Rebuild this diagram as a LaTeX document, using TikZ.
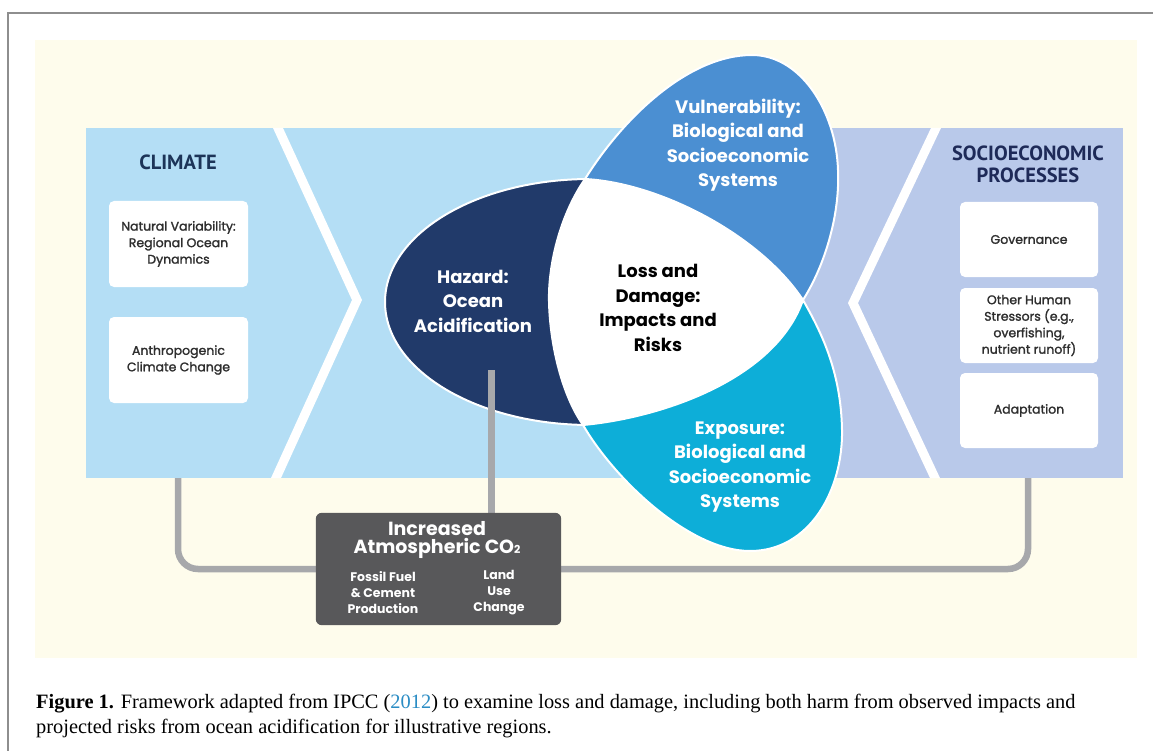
\documentclass[tikz,border=0pt]{standalone}
\usepackage{fontspec}
\setmainfont{Liberation Serif}
\newfontfamily\popm{Poppins}[FakeBold=1.6]
\newfontfamily\popb{Poppins}
\newfontfamily\ptsans{PT Sans}
\usetikzlibrary{shapes.geometric}
\definecolor{cream}{HTML}{FEFCEC}
\definecolor{skyp}{HTML}{B4DEF5}
\definecolor{lavp}{HTML}{B9C9EA}
\definecolor{navyH}{HTML}{213A6A}
\definecolor{vulB}{HTML}{4B8FD2}
\definecolor{expT}{HTML}{0DAED8}
\definecolor{connG}{HTML}{A7A8AB}
\definecolor{coBox}{HTML}{58585A}
\definecolor{headC}{HTML}{1C3458}
\definecolor{headS}{HTML}{1E2A58}
\definecolor{boxT}{HTML}{2E2E2E}
\definecolor{capBlue}{HTML}{2A8CC4}
\definecolor{frameG}{HTML}{8E8E8E}
\tikzset{
  wbox/.style={fill=white, rounded corners=5pt, inner sep=0pt, text=boxT, align=center,
    font=\popm\fontsize{12.5}{16.5}\selectfont},
  headtxt/.style={font=\ptsans\bfseries\fontsize{20.5}{22}\selectfont, align=center, inner sep=0pt},
  elltxt/.style={font=\popb\bfseries\fontsize{18}{24.5}\selectfont, align=center, inner sep=0pt},
  cotxt/.style={font=\popb\bfseries\fontsize{12.5}{16}\selectfont, align=center, inner sep=0pt, text=white},
  conn/.style={draw=connG, line width=6.5pt, rounded corners=20pt},
  shapeline/.style={draw=white, line width=2pt},
  chev/.style={fill=white},
  captxt/.style={font=\fontsize{20.4}{25}\selectfont, anchor=base west, inner sep=0pt}
}
\begin{document}
\begin{tikzpicture}[x=1pt,y=-1pt]
\useasboundingbox (0,0) rectangle (1153,751);
% frame and background
\draw[frameG, line width=1.5pt] (8,751) -- (8,13) -- (1153,13);
\fill[cream] (35,40) rectangle (1137,658);
% panels
\node[fill=skyp, anchor=north west, inner sep=0pt, minimum width=684, minimum height=350] (climpanel) at (86,128) {};
\node[fill=lavp, anchor=north west, inner sep=0pt, minimum width=353, minimum height=350] (socpanel) at (770,128) {};
% chevron bands
\fill[chev] (273,128) -- (283,128) -- (362,300) -- (281,478) -- (271,478) -- (352,300) -- cycle;
\fill[chev] (931,128) -- (941,128) -- (858,303) -- (940,478) -- (930,478) -- (848,303) -- cycle;
% headings
\node[headtxt, text=headC] (climh) at (178,162) {CLIMATE};
\node[headtxt, text=headS] (soch) at (1028,164) {SOCIOECONOMIC\\PROCESSES};
% left boxes
\node[wbox, minimum width=139, minimum height=86] (natv) at (178.5,244) {Natural Variability:\\Regional Ocean\\Dynamics};
\node[wbox, minimum width=139, minimum height=86] (anth) at (178.5,360) {Anthropogenic\\Climate Change};
% right boxes
\node[wbox, minimum width=138, minimum height=75] (gov) at (1029,239.5) {Governance};
\node[wbox, minimum width=138, minimum height=75] (oth) at (1029,325.5) {Other Human\\Stressors (e.g.,\\overfishing,\\nutrient runoff)};
\node[wbox, minimum width=138, minimum height=75] (adap) at (1029,410.5) {Adaptation};
% hazard ellipse
\node[ellipse, fill=navyH, shapeline, inner sep=0pt, minimum width=410, minimum height=246] (haz) at (590,302) {};
% key points of the central shapes
\coordinate (A) at (585,179);
\coordinate (B) at (583,425);
\coordinate (T) at (803,300);
% white centre
\path[fill=white] (A) .. controls (560,215) and (548,265) .. (549,302)
   .. controls (550,345) and (562,395) .. (B)
   .. controls (660,418) and (775,380) .. (T)
   .. controls (760,235) and (660,183) .. (A) -- cycle;
% vulnerability
\path[fill=vulB, shapeline] (T) .. controls (825,265) and (840,215) .. (838,170)
   .. controls (836,110) and (800,55) .. (752,55)
   .. controls (690,55) and (625,115) .. (A)
   .. controls (660,183) and (760,235) .. (T) -- cycle;
% exposure
\path[fill=expT, shapeline] (B) .. controls (615,480) and (690,551) .. (750,551)
   .. controls (810,551) and (843,490) .. (842,430)
   .. controls (841,370) and (820,330) .. (T)
   .. controls (775,380) and (660,418) .. (B) -- cycle;
% white dividing line on the left edge of the centre
\draw[shapeline] (A) .. controls (560,215) and (548,265) .. (549,302)
   .. controls (550,345) and (562,395) .. (B);
% ellipse texts
\node[elltxt, text=white] (hazt) at (473,301) {Hazard:\\Ocean\\Acidification};
\node[elltxt, text=black] (losst) at (658,308) {Loss and\\Damage:\\Impacts and\\Risks};
\node[elltxt, text=white] (vult) at (738,145) {Vulnerability:\\Biological and\\Socioeconomic\\Systems};
\node[elltxt, text=white] (expt) at (740,467) {Exposure:\\Biological and\\Socioeconomic\\Systems};
% connectors
\coordinate (hzc) at (491,370);
\coordinate (lstart) at (178,478);
\coordinate (rstart) at (1028,478);
\node[inner sep=0pt, minimum width=245, minimum height=112] (co2) at (438.5,569) {};
\draw[conn] (lstart) |- (co2.west);
\draw[conn] (rstart) |- (co2.east);
\draw[draw=connG, line width=7pt] (hzc) -- (hzc |- co2.north);
% CO2 box
\fill[coBox, rounded corners=6pt] (co2.north west) rectangle (co2.south east);
\node[font=\popb\bfseries\fontsize{19}{18}\selectfont, align=center, inner sep=0pt, text=white] (co2t) at (437,540) {Increased\\Atmospheric CO{\fontsize{11}{11}\selectfont 2}};
\node[cotxt] (fossil) at (383,593) {Fossil Fuel\\\& Cement\\Production};
\node[cotxt] (land) at (499,593) {Land\\Use\\Change};
% caption
\node[captxt] (cap1) at (36,708) {\textbf{Figure 1.} Framework adapted from IPCC (\textcolor{capBlue}{2012}) to examine loss and damage, including both harm from observed impacts and};
\node[captxt] (cap2) at (36,733) {projected risks from ocean acidification for illustrative regions.};
\end{tikzpicture}
\end{document}
